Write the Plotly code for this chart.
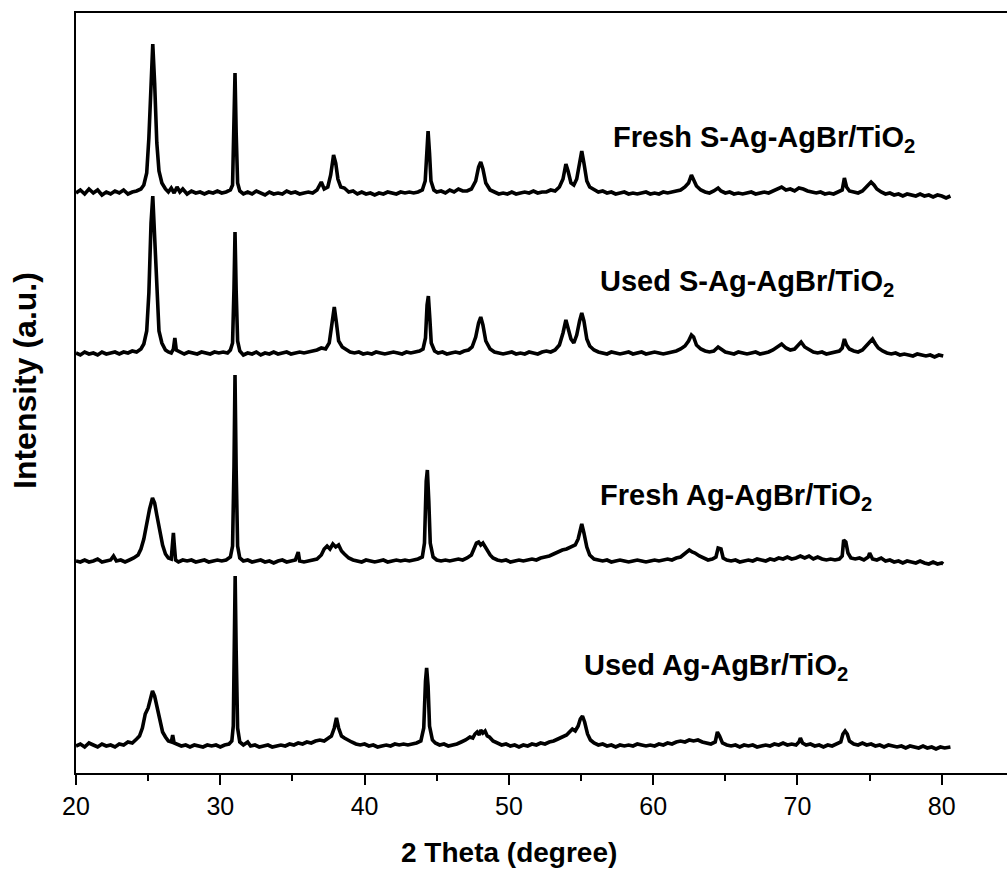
import plotly.graph_objects as go

# ---- data: (2theta, relative intensity) ----
fresh_s = [
 (20.0,0),(20.3,3),(20.6,-1),(20.9,4),(21.2,0),(21.5,3),(21.8,-2),(22.1,1),(22.4,-1),(22.7,2),(23.0,0),(23.3,3),(23.6,-1),(23.9,1),(24.2,2),(24.5,4),
 (24.7,8),(24.9,20),(25.05,55),(25.2,120),(25.32,149),(25.45,110),(25.6,50),(25.75,22),(25.95,10),(26.2,4),
 (26.4,1),(26.6,5),(26.8,0),(27.0,6),(27.2,1),(27.4,4),(27.7,-1),(28.0,2),(28.3,0),(28.6,1),(28.9,-1),(29.2,1),(29.5,0),(29.8,2),(30.1,0),(30.4,1),(30.7,3),
 (30.85,8),(30.95,60),(31.02,120),(31.1,60),(31.2,10),(31.35,2),
 (31.6,-1),(31.9,1),(32.2,-1),(32.5,2),(32.8,0),(33.1,-2),(33.4,1),(33.7,-1),(34.0,0),(34.3,-1),(34.6,2),(34.9,0),(35.2,1),(35.5,-1),(35.8,0),(36.1,1),(36.4,0),(36.7,3),
 (37.0,11),(37.2,4),(37.45,6),(37.65,18),(37.85,38),(38.0,30),(38.15,14),(38.35,6),(38.6,5),(38.9,1),(39.2,2),(39.5,-1),(39.8,1),(40.1,-1),(40.4,0),(40.7,-2),(41.0,0),(41.3,-1),(41.6,1),(41.9,0),(42.2,-1),(42.5,1),(42.8,0),(43.1,1),(43.4,0),(43.7,1),(44.0,3),
 (44.2,12),(44.32,50),(44.4,62),(44.5,40),(44.6,12),(44.8,3),
 (45.0,1),(45.3,2),(45.6,0),(45.9,3),(46.2,1),(46.5,4),(46.8,2),(47.1,2),(47.4,4),
 (47.7,12),(47.9,26),(48.05,31),(48.2,24),(48.4,10),(48.7,3),
 (49.0,1),(49.3,-1),(49.6,0),(49.9,-1),(50.2,1),(50.5,-1),(50.8,0),(51.1,1),(51.4,0),(51.7,2),(52.0,0),(52.3,1),(52.6,1),(52.9,3),(53.2,2),(53.5,6),
 (53.75,14),(53.95,29),(54.1,22),(54.3,10),(54.5,8),
 (54.7,14),(54.9,30),(55.05,42),(55.2,30),(55.4,12),(55.6,6),(55.9,3),
 (56.2,1),(56.5,2),(56.8,0),(57.1,1),(57.4,-1),(57.7,0),(58.0,1),(58.3,-1),(58.6,0),(58.9,-1),(59.2,0),(59.5,1),(59.8,-1),(60.1,0),(60.4,-1),(60.7,1),(61.0,0),(61.3,1),(61.6,2),(61.9,3),(62.2,6),
 (62.45,10),(62.65,18),(62.8,14),(63.0,7),(63.3,3),(63.6,1),(63.9,0),(64.2,2),(64.5,5),(64.7,2),(65.0,0),(65.3,1),(65.6,-1),(65.9,0),(66.2,-1),(66.5,0),(66.8,1),(67.1,-1),(67.4,0),(67.7,1),(68.0,0),(68.3,2),(68.6,4),(68.9,6),(69.2,3),(69.5,4),(69.8,2),(70.1,5),(70.4,4),(70.7,2),(71.0,1),(71.3,0),(71.6,1),(71.9,-1),(72.2,0),(72.5,-1),(72.8,1),(73.1,3),
 (73.25,15),(73.4,6),(73.6,2),(73.9,1),(74.2,0),(74.5,2),(74.8,6),
 (75.1,11),(75.3,8),(75.5,4),(75.8,1),(76.1,-1),(76.4,0),(76.7,-2),(77.0,-1),(77.3,-3),(77.6,-1),(77.9,-2),(78.2,-3),(78.5,-1),(78.8,-3),(79.1,-2),(79.4,-4),(79.7,-2),(80.0,-3),(80.3,-5),(80.6,-3),
]

used_s = [
 (20.0,0),(20.3,-2),(20.6,1),(20.9,-1),(21.2,0),(21.5,-2),(21.8,1),(22.1,-1),(22.4,0),(22.7,1),(23.0,-1),(23.3,1),(23.6,0),(23.9,2),(24.2,1),(24.5,4),
 (24.7,9),(24.9,22),(25.05,60),(25.2,130),(25.32,157),(25.45,115),(25.6,52),(25.75,22),(25.95,10),(26.2,3),
 (26.4,1),(26.6,0),(26.75,4),(26.85,15),(26.95,3),(27.2,1),(27.5,-1),(27.8,1),(28.1,0),(28.4,-1),(28.7,1),(29.0,0),(29.3,-1),(29.6,1),(29.9,0),(30.2,1),(30.5,0),(30.7,3),
 (30.85,10),(30.95,65),(31.02,121),(31.1,62),(31.2,12),(31.35,2),
 (31.6,-2),(31.9,0),(32.2,-1),(32.5,1),(32.8,-2),(33.1,0),(33.4,-1),(33.7,1),(34.0,-1),(34.3,0),(34.6,1),(34.9,-1),(35.2,0),(35.5,1),(35.8,0),(36.1,1),(36.4,2),(36.7,3),
 (37.0,5),(37.3,4),(37.55,10),(37.75,30),(37.9,46),(38.05,30),(38.2,12),(38.45,6),(38.7,4),(39.0,1),(39.3,0),(39.6,1),(39.9,-1),(40.2,0),(40.5,-1),(40.8,1),(41.1,0),(41.4,-1),(41.7,0),(42.0,1),(42.3,0),(42.6,-1),(42.9,1),(43.2,0),(43.5,1),(43.8,2),(44.05,4),
 (44.22,15),(44.33,48),(44.42,57),(44.52,35),(44.62,10),(44.85,2),
 (45.1,0),(45.4,1),(45.7,-1),(46.0,0),(46.3,1),(46.6,0),(46.9,2),(47.2,3),(47.45,6),
 (47.7,16),(47.9,30),(48.05,36),(48.2,28),(48.4,12),(48.7,4),
 (49.0,1),(49.3,0),(49.6,-1),(49.9,0),(50.2,1),(50.5,-1),(50.8,0),(51.1,-1),(51.4,1),(51.7,0),(52.0,-1),(52.3,1),(52.6,2),(52.9,1),(53.2,3),(53.5,8),
 (53.75,20),(53.95,33),(54.1,26),(54.3,14),(54.5,10),
 (54.7,18),(54.9,32),(55.05,40),(55.2,32),(55.4,14),(55.6,7),(55.9,3),
 (56.2,1),(56.5,0),(56.8,-1),(57.1,1),(57.4,0),(57.7,-1),(58.0,0),(58.3,1),(58.6,-1),(58.9,0),(59.2,1),(59.5,-1),(59.8,0),(60.1,1),(60.4,0),(60.7,-1),(61.0,0),(61.3,1),(61.6,2),(61.9,4),(62.2,7),
 (62.45,12),(62.65,18),(62.8,16),(63.0,8),(63.3,4),(63.6,2),(63.9,1),(64.2,2),(64.5,6),(64.75,3),(65.0,1),(65.3,0),(65.6,-1),(65.9,1),(66.2,0),(66.5,-1),(66.8,0),(67.1,1),(67.4,-1),(67.7,0),(68.0,1),(68.3,3),(68.6,6),(68.9,9),(69.2,5),(69.5,3),(69.8,4),(70.0,7),(70.25,11),(70.5,6),(70.8,3),(71.1,1),(71.4,0),(71.7,1),(72.0,-1),(72.3,0),(72.6,1),(72.9,2),(73.1,5),
 (73.25,14),(73.4,8),(73.6,4),(73.9,2),(74.2,1),(74.5,3),(74.8,8),
 (75.05,12),(75.2,14),(75.4,9),(75.6,5),(75.9,2),(76.2,0),(76.5,-1),(76.8,0),(77.1,-2),(77.4,-1),(77.7,-2),(78.0,-3),(78.3,-1),(78.6,-2),(78.9,-3),(79.2,-2),(79.5,-4),(79.8,-2),(80.1,-3),
]

fresh_ag = [
 (20.0,0),(20.3,-1),(20.6,1),(20.9,-1),(21.2,0),(21.5,2),(21.8,-1),(22.1,0),(22.4,1),(22.6,5),(22.8,0),(23.1,1),(23.4,-1),(23.7,1),(24.0,3),(24.3,6),
 (24.5,12),(24.7,22),(24.9,38),(25.1,52),(25.3,63),(25.45,58),(25.6,46),(25.8,30),(26.0,16),(26.2,7),(26.4,3),(26.6,2),
 (26.7,20),(26.75,28),(26.8,18),(26.9,1),(27.1,-1),(27.4,1),(27.7,0),(28.0,1),(28.3,-1),(28.6,0),(28.9,1),(29.2,-1),(29.5,0),(29.8,1),(30.1,0),(30.4,1),(30.7,4),
 (30.85,15),(30.95,95),(31.02,186),(31.1,90),(31.2,15),(31.35,3),
 (31.6,0),(31.9,1),(32.2,-1),(32.5,0),(32.8,1),(33.1,-1),(33.4,0),(33.7,-2),(34.0,0),(34.3,1),(34.6,-1),(34.9,0),(35.2,1),(35.4,9),(35.5,0),(35.8,-1),(36.1,0),(36.4,1),(36.7,2),
 (37.0,6),(37.2,12),(37.4,15),(37.6,12),(37.8,17),(38.0,14),(38.2,16),(38.4,10),(38.6,7),(38.9,3),(39.2,1),(39.5,0),(39.8,-1),(40.1,1),(40.4,0),(40.7,-1),(41.0,0),(41.3,1),(41.6,-1),(41.9,0),(42.2,1),(42.5,0),(42.8,1),(43.1,0),(43.4,1),(43.7,2),(44.0,4),
 (44.15,18),(44.27,80),(44.35,91),(44.45,60),(44.55,18),(44.75,4),
 (45.0,1),(45.3,0),(45.6,1),(45.9,0),(46.2,1),(46.5,2),(46.8,1),(47.1,3),(47.4,6),
 (47.6,14),(47.75,18),(47.9,19),(48.05,16),(48.2,18),(48.35,14),(48.5,10),(48.7,6),(48.9,3),
 (49.2,1),(49.5,0),(49.8,1),(50.1,-1),(50.4,0),(50.7,1),(51.0,0),(51.3,1),(51.6,2),(51.9,1),(52.2,3),(52.5,4),(52.8,5),(53.1,7),(53.4,9),(53.7,11),(54.0,12),(54.3,14),(54.6,16),
 (54.8,22),(54.95,33),(55.05,37),(55.2,28),(55.4,14),(55.6,6),(55.9,2),
 (56.2,1),(56.5,0),(56.8,1),(57.1,-1),(57.4,0),(57.7,1),(58.0,0),(58.3,-1),(58.6,0),(58.9,1),(59.2,0),(59.5,-1),(59.8,0),(60.1,1),(60.4,0),(60.7,1),(61.0,2),(61.3,1),(61.6,3),(61.9,4),(62.2,7),
 (62.5,11),(62.7,9),(62.9,8),(63.2,5),(63.5,3),(63.8,1),(64.1,2),(64.35,4),(64.5,13),(64.7,12),(64.85,3),(65.1,1),(65.4,0),(65.7,1),(66.0,-1),(66.3,0),(66.6,1),(66.9,0),(67.2,2),(67.5,1),(67.8,0),(68.1,2),(68.4,1),(68.7,3),(69.0,2),(69.3,4),(69.6,2),(69.9,3),(70.2,5),(70.5,3),(70.8,5),(71.1,2),(71.4,4),(71.7,2),(72.0,1),(72.3,2),(72.6,1),(72.9,2),(73.1,5),
 (73.2,21),(73.35,19),(73.5,8),(73.7,3),(74.0,2),(74.3,3),(74.6,1),(74.9,4),(75.0,8),(75.2,2),(75.5,1),(75.8,3),(76.1,0),(76.4,1),(76.7,-1),(77.0,0),(77.3,-2),(77.6,0),(77.9,-1),(78.2,-2),(78.5,0),(78.8,-2),(79.1,-3),(79.4,-1),(79.7,-3),(80.0,-2),(80.1,-3),
]

used_ag = [
 (20.0,0),(20.3,2),(20.6,-1),(20.9,3),(21.2,1),(21.5,-1),(21.8,2),(22.1,0),(22.4,1),(22.7,-1),(23.0,2),(23.3,1),(23.6,4),(23.9,3),(24.2,7),(24.4,10),
 (24.6,18),(24.8,32),(25.0,38),(25.15,46),(25.3,55),(25.45,50),(25.6,40),(25.8,24),(26.0,14),(26.2,9),(26.4,5),(26.6,4),
 (26.7,11),(26.8,3),(27.0,2),(27.3,0),(27.6,1),(27.9,-1),(28.2,1),(28.5,0),(28.8,-1),(29.1,1),(29.4,0),(29.7,1),(30.0,-1),(30.3,1),(30.6,2),(30.8,5),
 (30.9,20),(30.97,100),(31.03,170),(31.1,95),(31.2,18),(31.35,4),
 (31.6,1),(31.9,4),(32.1,0),(32.4,1),(32.7,-1),(33.0,0),(33.3,1),(33.6,-1),(33.9,0),(34.2,1),(34.5,0),(34.8,2),(35.1,1),(35.4,3),(35.7,2),(36.0,4),(36.3,3),(36.6,5),(36.9,6),(37.2,5),(37.5,8),(37.7,10),
 (37.9,18),(38.05,28),(38.2,18),(38.4,10),(38.6,8),(38.8,6),(39.1,4),(39.4,2),(39.7,1),(40.0,2),(40.3,0),(40.6,1),(40.9,-1),(41.2,0),(41.5,1),(41.8,0),(42.1,2),(42.4,1),(42.7,2),(43.0,1),(43.3,2),(43.6,3),(43.9,5),
 (44.1,18),(44.22,65),(44.3,78),(44.4,60),(44.5,20),(44.7,6),
 (44.9,3),(45.2,1),(45.5,2),(45.8,0),(46.1,1),(46.4,2),(46.7,4),(47.0,6),(47.3,9),(47.5,8),(47.65,12),(47.8,14),(47.95,11),(48.05,16),(48.2,13),(48.35,15),(48.5,10),(48.65,9),(48.9,5),(49.2,3),
 (49.5,1),(49.8,2),(50.1,0),(50.4,1),(50.7,-1),(51.0,1),(51.3,0),(51.6,2),(51.9,1),(52.2,3),(52.5,2),(52.8,4),(53.1,5),(53.4,7),(53.7,9),(54.0,11),(54.2,14),(54.4,17),(54.6,15),
 (54.8,20),(54.95,27),(55.1,30),(55.25,24),(55.45,12),(55.65,6),(55.9,3),
 (56.2,1),(56.5,2),(56.8,0),(57.1,1),(57.4,-1),(57.7,1),(58.0,0),(58.3,1),(58.6,0),(58.9,2),(59.2,1),(59.5,0),(59.8,1),(60.1,0),(60.4,2),(60.7,1),(61.0,3),(61.3,2),(61.6,4),(61.9,5),(62.2,4),(62.5,6),(62.8,5),(63.1,6),(63.4,4),(63.7,3),(64.0,2),(64.3,4),
 (64.45,14),(64.6,10),(64.8,3),(65.1,1),(65.4,0),(65.7,1),(66.0,-1),(66.3,1),(66.6,0),(66.9,1),(67.2,-1),(67.5,0),(67.8,1),(68.1,0),(68.4,2),(68.7,1),(69.0,3),(69.3,1),(69.6,2),(69.9,1),(70.1,4),(70.2,8),(70.35,3),(70.6,1),(70.9,2),(71.2,0),(71.5,1),(71.8,-1),(72.1,1),(72.4,0),(72.7,2),(73.0,4),
 (73.15,12),(73.3,15),(73.45,12),(73.6,5),(73.9,2),(74.2,1),(74.5,3),(74.8,1),(75.1,2),(75.4,0),(75.7,1),(76.0,-1),(76.3,1),(76.6,0),(76.9,-1),(77.2,0),(77.5,-2),(77.8,0),(78.1,-1),(78.4,-2),(78.7,0),(79.0,-2),(79.3,-1),(79.6,-3),(79.9,-1),(80.2,-2),(80.6,-1),
]

sample_names = ["Fresh S-Ag-AgBr/TiO<sub>2</sub>", "Used S-Ag-AgBr/TiO<sub>2</sub>",
                "Fresh Ag-AgBr/TiO<sub>2</sub>", "Used Ag-AgBr/TiO<sub>2</sub>"]
patterns = [fresh_s, used_s, fresh_ag, used_ag]
offsets = [580, 420, 212, 27]
label_pos = [(57.1, 634), (56.2, 490), (56.2, 276), (55.1, 106)]

x_ticks = [20, 30, 40, 50, 60, 70, 80]

FONT = "Liberation Sans, Arial, Helvetica, sans-serif"

fig = go.Figure()
for name, pat, off in zip(sample_names, patterns, offsets):
    xs = [p[0] for p in pat]
    ys = [p[1] + off for p in pat]
    fig.add_trace(go.Scatter(x=xs, y=ys, mode="lines", name=name,
                             line=dict(color="black", width=3.6), showlegend=False))

for name, (lx, ly) in zip(sample_names, label_pos):
    fig.add_annotation(x=lx, y=ly, xref="x", yref="y", text="<b>" + name + "</b>",
                       showarrow=False, xanchor="left", yanchor="middle",
                       font=dict(family=FONT, size=29, color="black"))

fig.add_annotation(x=(509 - 76) / 931, y=(773 - 853) / 760, xref="paper", yref="paper",
                   text="<b>2 Theta (degree)</b>", showarrow=False,
                   xanchor="center", yanchor="middle",
                   font=dict(family=FONT, size=28, color="black"))
fig.add_annotation(x=(25 - 76) / 931, y=(773 - 381) / 760, xref="paper", yref="paper",
                   text="<b>Intensity (a.u.)</b>", showarrow=False, textangle=-90,
                   xanchor="center", yanchor="middle",
                   font=dict(family=FONT, size=32, color="black"))

fig.update_layout(
    width=1007, height=873,
    margin=dict(l=76, r=0, t=13, b=100),
    plot_bgcolor="white", paper_bgcolor="white",
    showlegend=False,
    xaxis=dict(range=[20, 84.52], tickvals=x_ticks, ticktext=[str(t) for t in x_ticks],
               ticks="outside", ticklen=10, tickwidth=2, tickcolor="black",
               minor=dict(dtick=5, tick0=0, ticks="outside", ticklen=6, tickwidth=2,
                          tickcolor="black", showgrid=False),
               showline=True, linewidth=2, linecolor="black", mirror=True,
               showgrid=False, zeroline=False,
               tickfont=dict(family=FONT, size=25, color="black")),
    yaxis=dict(range=[0, 760], showline=True, linewidth=2, linecolor="black",
               mirror=False, showticklabels=False, ticks="", showgrid=False,
               zeroline=False),
)

fig.write_html("out.html")
